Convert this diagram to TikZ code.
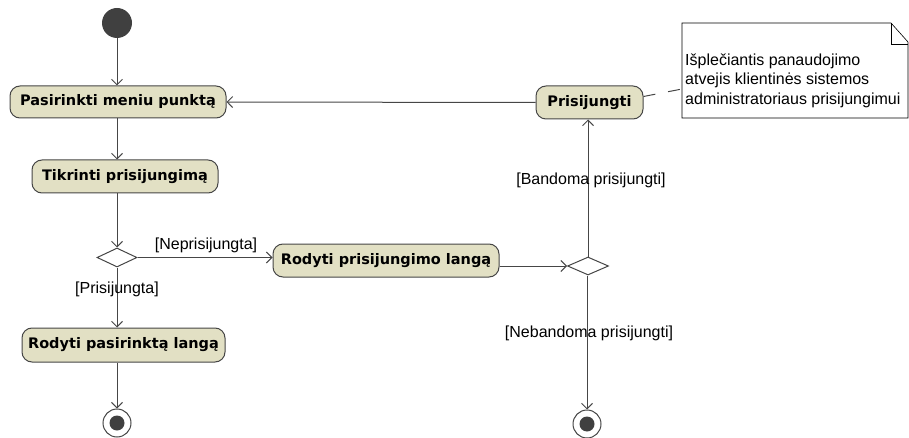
\documentclass[tikz,border=0pt]{standalone}
\usepackage{fontspec}
\setmainfont{Liberation Sans}
\newfontfamily\actfont{DejaVu Sans}
\usetikzlibrary{shapes.geometric,arrows.meta}
\definecolor{actfill}{RGB}{226,224,196}
\definecolor{edgegray}{RGB}{70,70,70}
\begin{document}
\begin{tikzpicture}[x=1pt,y=-1pt,
  action/.style={draw=edgegray,line width=1pt,fill=actfill,rounded corners=10pt,
    font=\actfont\bfseries\fontsize{14.5}{16}\selectfont,inner sep=0pt},
  decision/.style={draw=edgegray,line width=1pt,fill=white,diamond,inner sep=0pt,
    minimum width=40pt,minimum height=19pt},
  initial/.style={circle,fill=black!75,minimum size=30pt,inner sep=0pt},
  final/.style={circle,draw=edgegray,line width=1pt,fill=white,minimum size=28pt,inner sep=0pt,
    path picture={\fill[black!75] (path picture bounding box.center) circle (7.5pt);}},
  flow/.style={draw=edgegray,line width=1pt,-{Straight Barb[length=5.5pt,width=11pt]}},
  guard/.style={font=\fontsize{16}{18}\selectfont,inner sep=0pt},
  notebox/.style={draw=black,line width=0.6pt,fill=white}
]
\useasboundingbox (0,0) rectangle (909,438);

% actions
\node[action,minimum width=216pt,minimum height=32pt] (pasirinkti) at (118,102) {Pasirinkti meniu punktą};
\node[action,minimum width=186pt,minimum height=33pt] (tikrinti) at (125,176.5) {Tikrinti prisijungimą};
\node[action,minimum width=203pt,minimum height=34pt] (rodytiPas) at (123.5,345) {Rodyti pasirinktą langą};
\node[action,minimum width=226pt,minimum height=33pt] (rodytiPris) at (386,260.5) {Rodyti prisijungimo langą};
\node[action,minimum width=107pt,minimum height=33pt] (prisijungti) at (589.5,102.5) {Prisijungti};

% control nodes
\node[initial] (start) at (117,23) {};
\node[decision] (d1) at (117,257.5) {};
\node[decision,minimum width=41pt,minimum height=18pt] (d2) at (588,266) {};
\node[final] (end1) at (117,423) {};
\node[final] (end2) at (587,424) {};

% flows
\draw[flow] (start) -- (start |- pasirinkti.north);
\draw[flow] (pasirinkti.south -| start) -- (start |- tikrinti.north);
\draw[flow] (tikrinti.south -| d1) -- (d1.north);
\draw[flow] (d1.east) -- (d1.east -| rodytiPris.west);
\draw[flow] (d1.south) -- (d1 |- rodytiPas.north);
\draw[flow] (rodytiPas.south -| end1) -- (end1.north);
\draw[flow] (rodytiPris.east |- d2) -- (d2.west);
\draw[flow] (d2.north) -- (d2 |- prisijungti.south);
\draw[flow] (prisijungti.west) -- (pasirinkti.east);
\draw[flow] (d2.south -| end2) -- (end2.north);

% guards
\node[guard] (gNe) at (206,245) {[Neprisijungta]};
\node[guard] (gPr) at (117,289) {[Prisijungta]};
\node[guard] (gBa) at (591,180) {[Bandoma prisijungti]};
\node[guard] (gNb) at (589,333) {[Nebandoma prisijungti]};

% comment note
\draw[notebox] (682,23) -- (891,23) -- (908,42) -- (908,118) -- (682,118) -- cycle;
\draw[black,line width=0.6pt] (891,23) -- (891,44) -- (908,44);
\coordinate (noteAnchor) at (682,89);
\node[anchor=west,align=left,font=\fontsize{16}{19.5}\selectfont,inner sep=0pt] (noteText) at (685,80.5)
  {Išplečiantis panaudojimo\\atvejis klientinės sistemos\\administratoriaus prisijungimui};
\draw[edgegray,line width=1pt,dash pattern=on 12pt off 13pt] (prisijungti.east) ++(0,-6) -- (noteAnchor);
\end{tikzpicture}
\end{document}
